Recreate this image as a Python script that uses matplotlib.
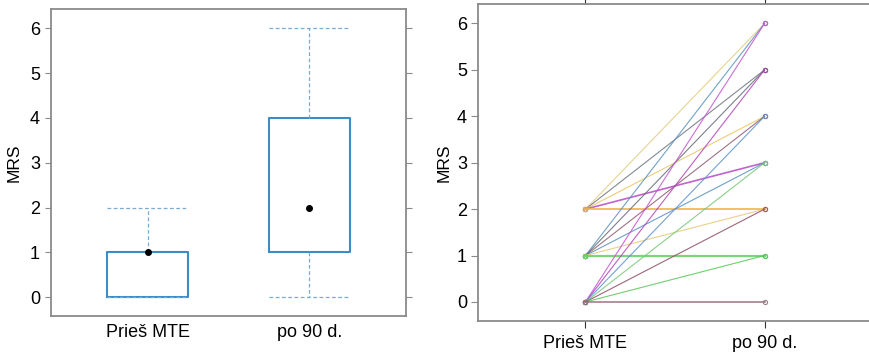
import matplotlib.pyplot as plt

plt.rcParams['font.family'] = ['Liberation Sans', 'DejaVu Sans']

groups = ['Prieš MTE', 'po 90 d.']

# box summary per group (R style: median shown as a dot)
box_med = [1, 2]
box_q1 = [0, 1]
box_q3 = [1, 4]
box_lo = [0, 0]
box_hi = [2, 6]

# paired MRS scores, one line per patient
mrs_before = [2, 2, 2, 2, 2, 1, 1, 1, 1, 1, 1, 0, 0, 0, 0, 0, 0, 0]
mrs_after = [6, 5, 4, 3, 2, 6, 5, 4, 3, 2, 1, 6, 5, 4, 3, 2, 1, 0]
pair_colors = ['#e2cc80', '#6d7580', '#e8c462', '#b548c4', '#f0b446',
               '#5a92bc', '#636b75', '#8e5a70', '#5590c4', '#e8c878',
               '#62d062', '#c454d0', '#b044b4', '#5d90d0', '#74c874',
               '#8c4a64', '#56c856', '#946878']
# flat lines carry several patients, so they look heavier
pair_widths = [0.8, 0.8, 0.8, 1.2, 1.4, 0.8, 0.8, 0.8, 0.8, 0.8,
               1.6, 0.8, 0.8, 0.8, 0.8, 0.8, 0.8, 1.2]

frame_col = '#8a8a8a'
box_col = '#3d8cc4'
whisk_col = '#78aad2'

fig = plt.figure(figsize=(8.7, 3.53), dpi=100)

# left: box plot
ax1 = fig.add_axes([51 / 870, 37 / 353, 355 / 870, 307 / 353])
stats = []
for i in range(len(groups)):
    stats.append({'med': box_med[i], 'q1': box_q1[i], 'q3': box_q3[i],
                  'whislo': box_lo[i], 'whishi': box_hi[i], 'fliers': []})
ax1.bxp(stats, positions=[1, 2], widths=0.5, showfliers=False,
        boxprops=dict(color=box_col, linewidth=1.5),
        whiskerprops=dict(color=whisk_col, linewidth=0.9, linestyle=(0, (3, 2))),
        capprops=dict(color=whisk_col, linewidth=0.9, linestyle=(0, (3, 2))),
        medianprops=dict(linewidth=0), capwidths=0.5)
ax1.plot([1, 2], box_med, 'o', color='black', markersize=4, zorder=5)
ax1.set_xlim(0.4, 2.6)
ax1.set_ylim(-0.42, 6.43)
ax1.set_xticks([1, 2])
ax1.set_xticklabels(groups, fontsize=13)
ax1.set_yticks(range(7))
ax1.tick_params(axis='x', length=0, pad=6)
ax1.tick_params(axis='y', labelsize=13, length=4, color=frame_col,
                direction='out', right=True, pad=4)
ax1.set_ylabel('MRS', fontsize=12.5, labelpad=6)
for s in ax1.spines.values():
    s.set_color(frame_col)
    s.set_linewidth(1.3)

# right: individual trajectories
ax2 = fig.add_axes([478 / 870, 32 / 353, 394 / 870, 317 / 353])
for i in range(len(mrs_before)):
    ax2.plot([1, 2], [mrs_before[i], mrs_after[i]], color=pair_colors[i],
             linewidth=pair_widths[i], alpha=0.85, marker='o', markersize=3,
             markerfacecolor='none', markeredgewidth=0.8)
ax2.set_xlim(0.4, 2.6)
ax2.set_ylim(-0.41, 6.42)
ax2.set_xticks([1, 2])
ax2.set_xticklabels(groups, fontsize=13)
ax2.set_yticks(range(7))
ax2.tick_params(axis='x', length=5, color='#333333', direction='out',
                top=True, pad=5)
ax2.tick_params(axis='y', labelsize=13, length=5, color=frame_col,
                direction='out', pad=3)
ax2.set_ylabel('MRS', fontsize=12.5, labelpad=4)
for s in ax2.spines.values():
    s.set_color(frame_col)
    s.set_linewidth(1.3)

fig.savefig('out.png', dpi=100)
